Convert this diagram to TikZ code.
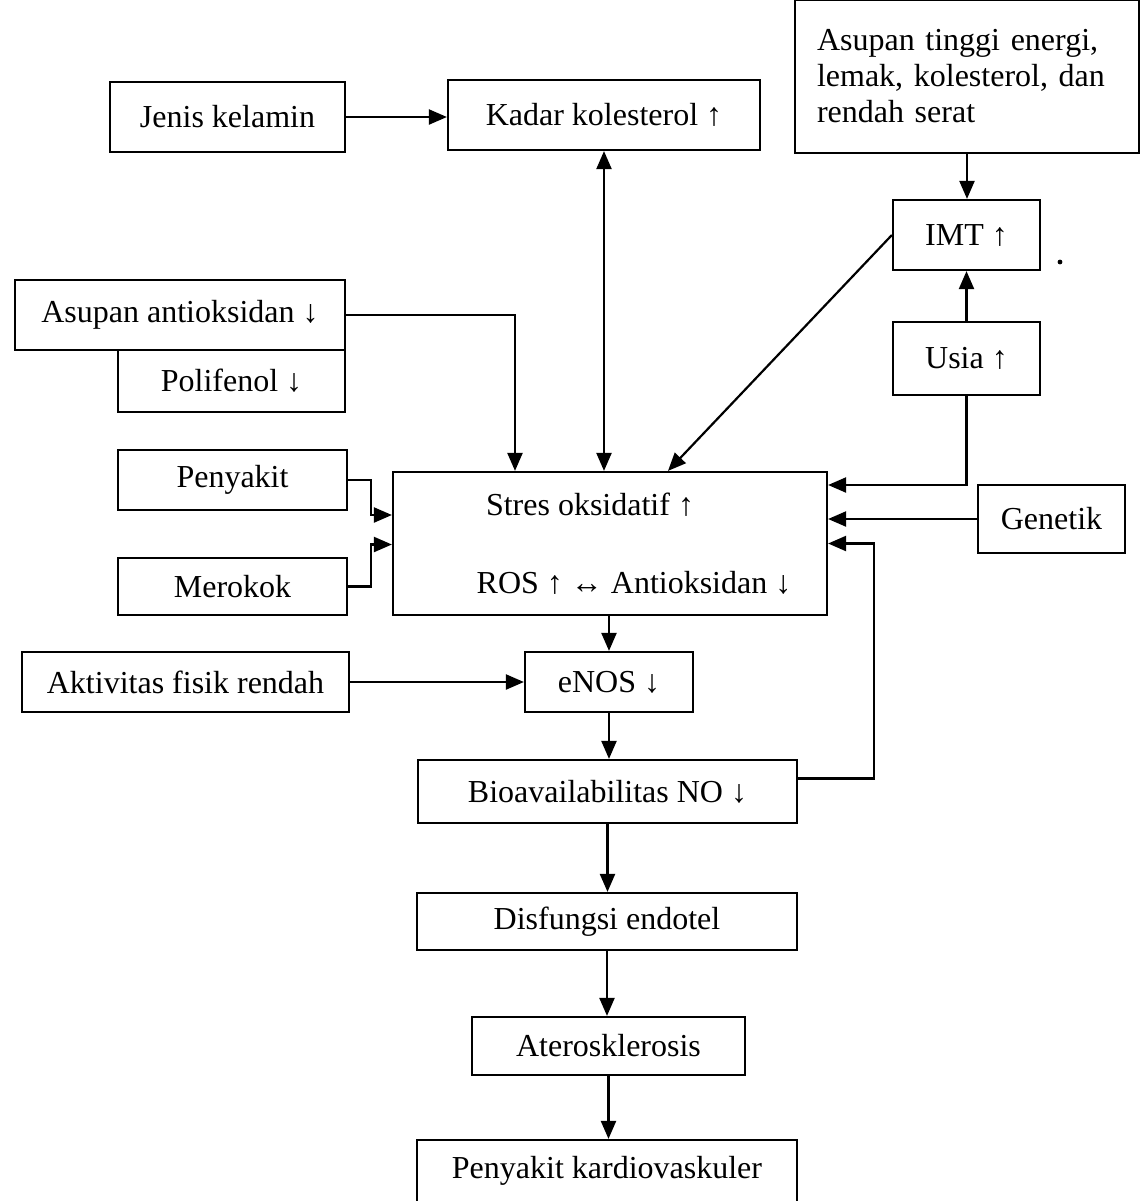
\documentclass[tikz,border=0pt]{standalone}
\usepackage{fontspec}
\setmainfont{Liberation Serif}
\usetikzlibrary{arrows.meta}
\begin{document}
\begin{tikzpicture}[x=0.5pt,y=-0.5pt,
  box/.style={draw, line width=1.1pt, fill=white, inner sep=0pt, align=center,
    font=\fontsize{16}{18}\selectfont},
  lbl/.style={inner sep=0pt, font=\fontsize{16}{18}\selectfont},
  tip/.style={Triangle[length=9pt,width=7.5pt]},
  conn/.style={line width=1.1pt, -{Triangle[length=9pt,width=7.5pt]}},
  biconn/.style={line width=1.1pt, {Triangle[length=9pt,width=7.5pt]}-{Triangle[length=9pt,width=7.5pt]}},
  link/.style={line width=1.1pt}]
\useasboundingbox (0,0) rectangle (1141,1201);

% top row
\node[box, minimum width=117.5pt, minimum height=35pt] (jenis) at (227.5,117) {Jenis kelamin};
\node[box, minimum width=156pt, minimum height=35pt] (kadar) at (604,115) {Kadar kolesterol ↑};
\node[box, text width=150pt, inner xsep=11pt, minimum height=76.5pt, align=left] (diet) at (967,76.5)
  {Asupan tinggi energi,\\lemak, kolesterol, dan\\rendah serat\\[12pt]};

% right column
\node[box, minimum width=73.5pt, minimum height=35pt] (imt) at (966.5,235) {IMT ↑};
\node[box, minimum width=73.5pt, minimum height=36.5pt] (usia) at (966.5,358.5) {Usia ↑};
\node[box, minimum width=73.5pt, minimum height=34pt] (genetik) at (1051.5,519) {Genetik};
\fill (1060,262) circle (1.2pt);

% left column
\node[box, minimum width=165pt, minimum height=35pt] (anti) at (180,315) {Asupan antioksidan ↓};
\node[box, minimum width=113.5pt, minimum height=31pt] (poli) at (231.5,381) {Polifenol ↓};
\node[box, minimum width=114.5pt, minimum height=30pt] (penyakit) at (232.5,480) {Penyakit};
\node[box, minimum width=114.5pt, minimum height=28.5pt] (merokok) at (232.5,586.5) {Merokok};
\node[box, minimum width=163.5pt, minimum height=30pt] (aktivitas) at (185.5,682) {Aktivitas fisik rendah};

% central chain
\node[box, minimum width=217pt, minimum height=71.5pt] (stres) at (610,543.5) {};
\node[lbl] (stresA) at (590,505) {Stres oksidatif ↑};
\node[lbl] (stresB) at (634,583) {ROS ↑ ↔ Antioksidan ↓};
\node[box, minimum width=84pt, minimum height=30pt] (enos) at (609,682) {eNOS ↓};
\node[box, minimum width=189.5pt, minimum height=31.5pt] (bio) at (607.5,791.5) {Bioavailabilitas NO ↓};
\node[box, minimum width=190pt, minimum height=28.5pt] (disf) at (607,921.5) {Disfungsi endotel};
\node[box, minimum width=136.5pt, minimum height=29pt] (atero) at (608.5,1046) {Aterosklerosis};
\node[box, minimum width=190pt, minimum height=31pt] (pkv) at (607,1171) {Penyakit kardiovaskuler};

% connectors: top
\draw[conn] (jenis.east) -- (jenis.east -| kadar.west);
\draw[biconn] (kadar.south) -- (kadar.south |- stres.north);
\draw[conn] (diet.south) -- (diet.south |- imt.north);
\draw[conn] (usia.north) -- (imt.south);
\draw[conn] (imt.west) -- ([xshift=29pt]stres.north);
\draw[conn] (anti.east) -| ([xshift=-47.5pt]stres.north);

% connectors: into the stress box from the right
\draw[conn] (usia.south) |- ([yshift=29.25pt]stres.east);
\draw[conn] (genetik.west) -- (genetik.west -| stres.east);
\draw[conn] ([yshift=6.5pt]bio.east) -| ([xshift=23pt]stres.east) -- (stres.east);

% connectors: into the stress box from the left
\draw[conn] (penyakit.east) -- ++(11.5pt,0) |- ([yshift=14.25pt]stres.west);
\draw[conn] (merokok.east) -- ++(11.5pt,0) |- ([yshift=-0.5pt]stres.west);

% main downward chain
\draw[conn] (enos.north |- stres.south) -- (enos.north);
\draw[conn] (aktivitas.east) -- (enos.west);
\draw[conn] (enos.south) -- (enos.south |- bio.north);
\draw[conn] (bio.south) -- (bio.south |- disf.north);
\draw[conn] (disf.south) -- (disf.south |- atero.north);
\draw[conn] (atero.south) -- (atero.south |- pkv.north);
\end{tikzpicture}
\end{document}
